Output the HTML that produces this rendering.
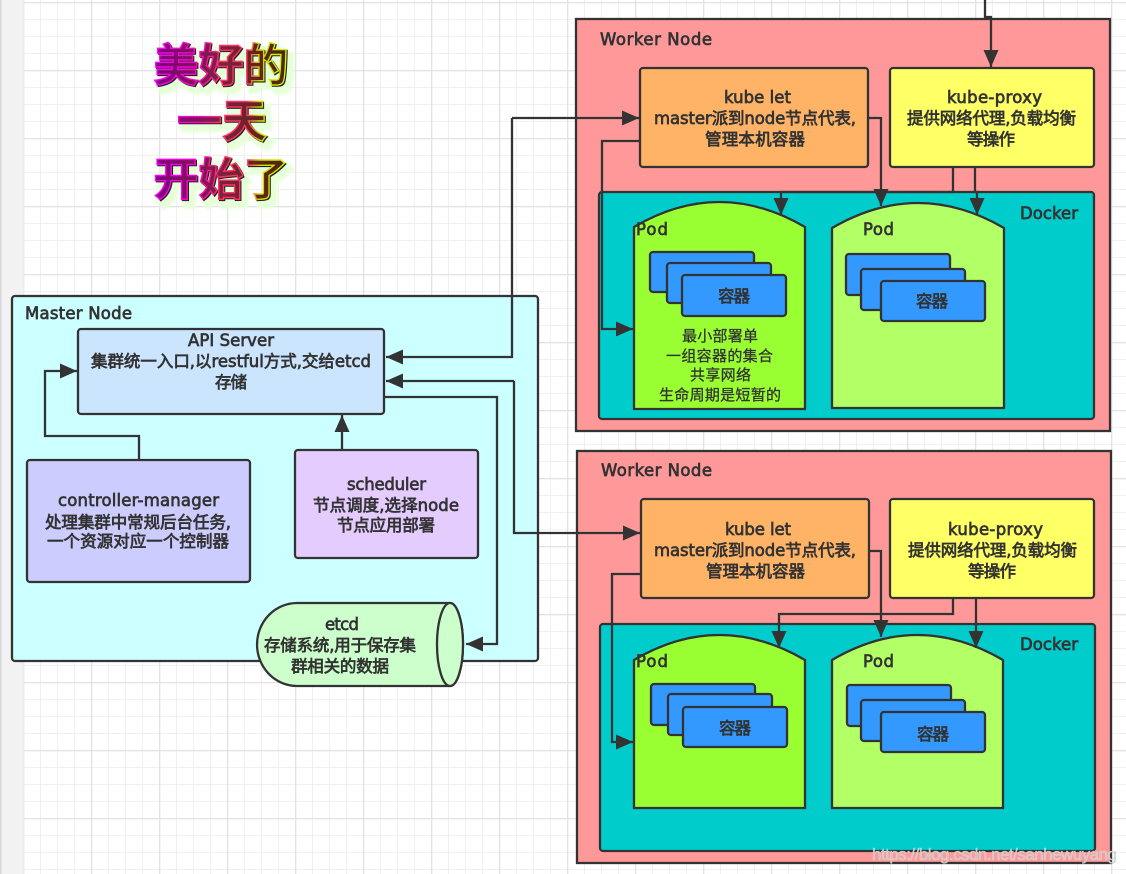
<!DOCTYPE html>
<html><head><meta charset="utf-8">
<style>
html,body{margin:0;padding:0;background:#fff}
svg{display:block}
.s{stroke:#333;stroke-width:2.3}
.l{fill:none;stroke:#333;stroke-width:2.3}
.t{font-family:"DejaVu Sans","Noto Sans CJK SC",sans-serif;font-size:16.5px;fill:#333;stroke:#333;stroke-width:.7px}
.d{font-family:"DejaVu Sans","Noto Sans CJK SC",sans-serif;font-size:15px;fill:#333;stroke:#333;stroke-width:.3px}
.h{font-family:"Noto Sans CJK SC","Liberation Sans",sans-serif;font-size:45px;font-weight:700}
</style></head>
<body>
<svg xmlns="http://www.w3.org/2000/svg" width="1126" height="874" viewBox="0 0 1126 874">
<defs>
<pattern id="g1" width="17" height="17" patternUnits="userSpaceOnUse" x="23" y="2">
<rect x="0" y="0" width="17" height="1" fill="#f0f0f0"/><rect x="0" y="0" width="1" height="17" fill="#f0f0f0"/>
</pattern>
<pattern id="g2" width="68" height="68" patternUnits="userSpaceOnUse" x="23" y="2">
<rect x="0" y="0" width="68" height="1.3" fill="#e2e2e2"/><rect x="0" y="0" width="1.3" height="68" fill="#e2e2e2"/>
</pattern>
<marker id="a" markerUnits="userSpaceOnUse" markerWidth="19" markerHeight="16" refX="17" refY="7.5" orient="auto">
<path d="M0 0L17 7.5L0 15Z" fill="#333"/>
</marker>
<linearGradient id="hs" gradientUnits="userSpaceOnUse" x1="154" y1="0" x2="290" y2="0">
<stop offset="0" stop-color="#ff00ff"/><stop offset=".32" stop-color="#ff00cc"/><stop offset=".5" stop-color="#ff3366"/><stop offset=".68" stop-color="#ff3366"/><stop offset=".78" stop-color="#ccdd00"/><stop offset="1" stop-color="#ccff00"/>
</linearGradient>
<linearGradient id="hf" gradientUnits="userSpaceOnUse" x1="154" y1="0" x2="290" y2="0">
<stop offset="0" stop-color="#800080"/><stop offset=".5" stop-color="#802040"/><stop offset="1" stop-color="#4d2600"/>
</linearGradient>
<filter id="blur" x="-20%" y="-20%" width="140%" height="140%"><feGaussianBlur stdDeviation="1.2"/></filter>
</defs>

<rect width="1126" height="874" fill="#fff"/>
<rect x="23" width="1103" height="874" fill="url(#g1)"/>
<rect x="23" width="1103" height="874" fill="url(#g2)"/>
<rect width="23.5" height="874" fill="#f2f2f2"/>
<rect width="1.5" height="874" fill="#d8d8dc"/>

<!-- Title -->
<g class="h" text-anchor="middle" fill="#e6ffd9" stroke="#e6ffd9" stroke-width="7" filter="url(#blur)">
<text x="226" y="87">美好的</text><text x="227" y="143">一天</text><text x="226" y="201">开始了</text>
</g>
<g class="h" text-anchor="middle" fill="#222" stroke="#222" stroke-width="1.5">
<text x="222" y="82">美好的</text><text x="223" y="138">一天</text><text x="222" y="196">开始了</text>
</g>
<g class="h" text-anchor="middle" fill="url(#hf)" stroke="url(#hs)" stroke-width="1.4">
<text x="221" y="81">美好的</text><text x="222" y="137">一天</text><text x="221" y="195">开始了</text>
</g>

<!-- Master -->
<rect class="s" x="12" y="296" width="526" height="365" rx="3" fill="#ccffff"/>
<text class="t" x="25" y="319" textLength="107">Master Node</text>
<rect class="s" x="78" y="329" width="306" height="85" rx="3" fill="#cce5ff"/>
<text class="t" x="188" y="346" textLength="86">API Server</text>
<text class="t" x="91" y="367" textLength="280">集群统一入口,以restful方式,交给etcd</text>
<text class="t" x="215" y="388" textLength="32">存储</text>
<rect class="s" x="27" y="460" width="223" height="122" rx="3" fill="#ccccff"/>
<text class="t" x="58" y="506" textLength="161">controller-manager</text>
<text class="t" x="45" y="528" textLength="186">处理集群中常规后台任务,</text>
<text class="t" x="47" y="547" textLength="182">一个资源对应一个控制器</text>
<rect class="s" x="295" y="450" width="183" height="108" rx="3" fill="#e5ccff"/>
<text class="t" x="347" y="490" textLength="79">scheduler</text>
<text class="t" x="313" y="511" textLength="146">节点调度,选择node</text>
<text class="t" x="337" y="531" textLength="98">节点应用部署</text>
<path class="s" d="M297 603H450A13 41.5 0 0 1 450 686H297A40 41.5 0 0 1 297 603Z" fill="#ccffcc"/>
<ellipse class="s" cx="450" cy="644.500" rx="13" ry="41.500" fill="#ccffcc"/>
<text class="t" x="325" y="630" textLength="34">etcd</text>
<text class="t" x="264" y="651" textLength="152">存储系统,用于保存集</text>
<text class="t" x="291" y="672" textLength="98">群相关的数据</text>

<!-- Worker 1 -->
<rect class="s" x="576" y="19" width="534" height="412" fill="#ff9999"/>
<text class="t" x="600" y="45" textLength="112">Worker Node</text>
<rect class="s" x="640" y="68" width="228" height="99" rx="3" fill="#ffb366"/>
<text class="t" x="724" y="103" textLength="67">kube let</text>
<text class="t" x="654" y="124" textLength="202">master派到node节点代表,</text>
<text class="t" x="705" y="145" textLength="100">管理本机容器</text>
<rect class="s" x="890" y="68" width="204" height="99" rx="3" fill="#ffff66"/>
<text class="t" x="947" y="103" textLength="95">kube-proxy</text>
<text class="t" x="907" y="124" textLength="169">提供网络代理,负载均衡</text>
<text class="t" x="967" y="145" textLength="48">等操作</text>
<rect class="s" x="599" y="192" width="495" height="227" rx="3" fill="#00cccc"/>
<text class="t" x="1020" y="219" textLength="58">Docker</text>
<path class="s" d="M634 227Q719 177 805 227V409H634Z" fill="#99ff33"/>
<path class="s" d="M832 228Q918 178 1004 228V408H832Z" fill="#b3ff66"/>
<text class="t" x="636" y="235" textLength="32">Pod</text>
<text class="t" x="863" y="235" textLength="31">Pod</text>
<rect class="s" x="650" y="252" width="104" height="40" rx="3" fill="#3399ff"/>
<rect class="s" x="667" y="263" width="104" height="40" rx="3" fill="#3399ff"/>
<rect class="s" x="682" y="275" width="104" height="41" rx="3" fill="#3399ff"/>
<text class="t" x="718" y="302" textLength="32">容器</text>
<rect class="s" x="846" y="254" width="104" height="41" rx="3" fill="#3399ff"/>
<rect class="s" x="861" y="269" width="104" height="41" rx="3" fill="#3399ff"/>
<rect class="s" x="881" y="281" width="104" height="40" rx="3" fill="#3399ff"/>
<text class="t" x="916" y="307" textLength="32">容器</text>
<text class="d" x="682" y="341" textLength="76">最小部署单</text>
<text class="d" x="666" y="361" textLength="107">一组容器的集合</text>
<text class="d" x="690" y="380" textLength="61">共享网络</text>
<text class="d" x="659" y="400" textLength="122">生命周期是短暂的</text>

<!-- Worker 2 -->
<rect class="s" x="577" y="451" width="534" height="412" fill="#ff9999"/>
<text class="t" x="601" y="476" textLength="111">Worker Node</text>
<rect class="s" x="641" y="499" width="228" height="99" rx="3" fill="#ffb366"/>
<text class="t" x="725" y="535" textLength="66">kube let</text>
<text class="t" x="654" y="556" textLength="202">master派到node节点代表,</text>
<text class="t" x="706" y="577" textLength="99">管理本机容器</text>
<rect class="s" x="890" y="499" width="204" height="99" rx="3" fill="#ffff66"/>
<text class="t" x="948" y="535" textLength="95">kube-proxy</text>
<text class="t" x="908" y="556" textLength="169">提供网络代理,负载均衡</text>
<text class="t" x="968" y="577" textLength="48">等操作</text>
<rect class="s" x="600" y="624" width="495" height="227" rx="3" fill="#00cccc"/>
<text class="t" x="1020" y="650" textLength="58">Docker</text>
<path class="s" d="M634 660Q719 610 805 660V808H634Z" fill="#99ff33"/>
<path class="s" d="M832 660Q917 610 1003 660V808H832Z" fill="#b3ff66"/>
<text class="t" x="636" y="667" textLength="32">Pod</text>
<text class="t" x="863" y="667" textLength="31">Pod</text>
<rect class="s" x="651" y="684" width="104" height="41" rx="3" fill="#3399ff"/>
<rect class="s" x="668" y="694" width="104" height="41" rx="3" fill="#3399ff"/>
<rect class="s" x="683" y="707" width="104" height="40" rx="3" fill="#3399ff"/>
<text class="t" x="719" y="734" textLength="32">容器</text>
<rect class="s" x="847" y="685" width="104" height="41" rx="3" fill="#3399ff"/>
<rect class="s" x="861" y="700" width="104" height="41" rx="3" fill="#3399ff"/>
<rect class="s" x="881" y="712" width="104" height="40" rx="3" fill="#3399ff"/>
<text class="t" x="917" y="740" textLength="32">容器</text>

<!-- Connectors -->
<path class="l" d="M985 0V17H991V67" marker-end="url(#a)"/>
<path class="l" d="M512 118H639" marker-end="url(#a)"/>
<path class="l" d="M512 118V357H386" marker-end="url(#a)"/>
<path class="l" d="M514 381H386" marker-end="url(#a)"/>
<path class="l" d="M514 381V533H640" marker-end="url(#a)"/>
<path class="l" d="M385 397H497V644H466" marker-end="url(#a)"/>
<path class="l" d="M139 460V436H45V371H77" marker-end="url(#a)"/>
<path class="l" d="M342 450V415" marker-end="url(#a)"/>
<path class="l" d="M640 141H602V329H633" marker-end="url(#a)"/>
<path class="l" d="M869 118H881V206" marker-end="url(#a)"/>
<path class="l" d="M953 168V192H781V215" marker-end="url(#a)"/>
<path class="l" d="M975 168V192H977V215" marker-end="url(#a)"/>
<path class="l" d="M641 574H612V742H633" marker-end="url(#a)"/>
<path class="l" d="M870 551H881V637" marker-end="url(#a)"/>
<path class="l" d="M953 599V614H779V648" marker-end="url(#a)"/>
<path class="l" d="M976 599V648" marker-end="url(#a)"/>

<!-- Watermark -->
<text x="872" y="860" font-family="'Liberation Sans',sans-serif" font-size="17" textLength="245" fill="#c4c4c4" stroke="#ffffff" stroke-opacity=".35" stroke-width=".6">https://blog.csdn.net/sanhewuyang</text>
</svg>
</body></html>
